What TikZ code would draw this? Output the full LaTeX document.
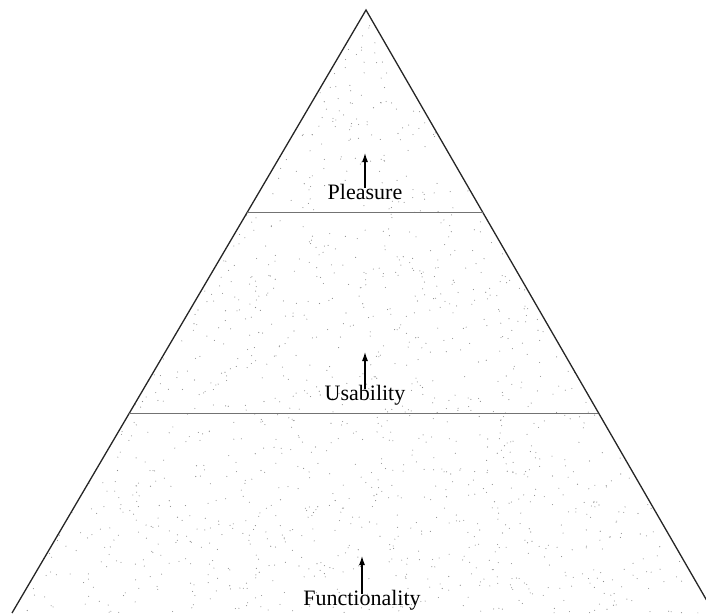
\documentclass[tikz,border=0pt]{standalone}
\usepackage{fontspec}
\setmainfont{Liberation Serif}
\usetikzlibrary{arrows.meta}
\begin{document}
\begin{tikzpicture}[x=1pt,y=-1pt,
  edge/.style={draw=black!85,line width=1.3pt},
  band/.style={draw=black!55,line width=1pt},
  lab/.style={font=\fontsize{22}{25}\selectfont,inner sep=0pt,anchor=base},
  up/.style={-{Latex[length=9pt,width=6pt]},line width=1.1pt}]
\useasboundingbox (0,0) rectangle (706,613);
\coordinate (apex) at (366,10);
\coordinate (bl) at (12,613);
\coordinate (br) at (714,613);
\begin{scope}
\clip (0,0) rectangle (706,613);
\begin{scope}
\clip (apex) -- (bl) -- (br) -- cycle;
\pgfmathsetseed{7}
\foreach \i in {1,...,2600}{
  \fill[black!45] ({rnd*706},{rnd*613}) circle (0.55);
}
\end{scope}
\draw[edge] (bl) -- (apex) -- (br);
\end{scope}
\coordinate (p1) at (247,212);
\coordinate (p2) at (484,212);
\coordinate (u1) at (129,413);
\coordinate (u2) at (598,413);
\draw[band] (p1) -- (p2);
\draw[band] (u1) -- (u2);
\node[lab] (pleasure) at (365,199) {Pleasure};
\node[lab] (usability) at (365,400) {Usability};
\node[lab] (functionality) at (362,605) {Functionality};
\coordinate (pt) at (365,153);
\coordinate (ut) at (365,352);
\coordinate (ft) at (362,556);
\draw[up] ([yshift=-4pt]pleasure.north) -- (pt);
\draw[up] ([yshift=-4pt]usability.north) -- (ut);
\draw[up] ([yshift=-4pt]functionality.north) -- (ft);
\end{tikzpicture}
\end{document}
